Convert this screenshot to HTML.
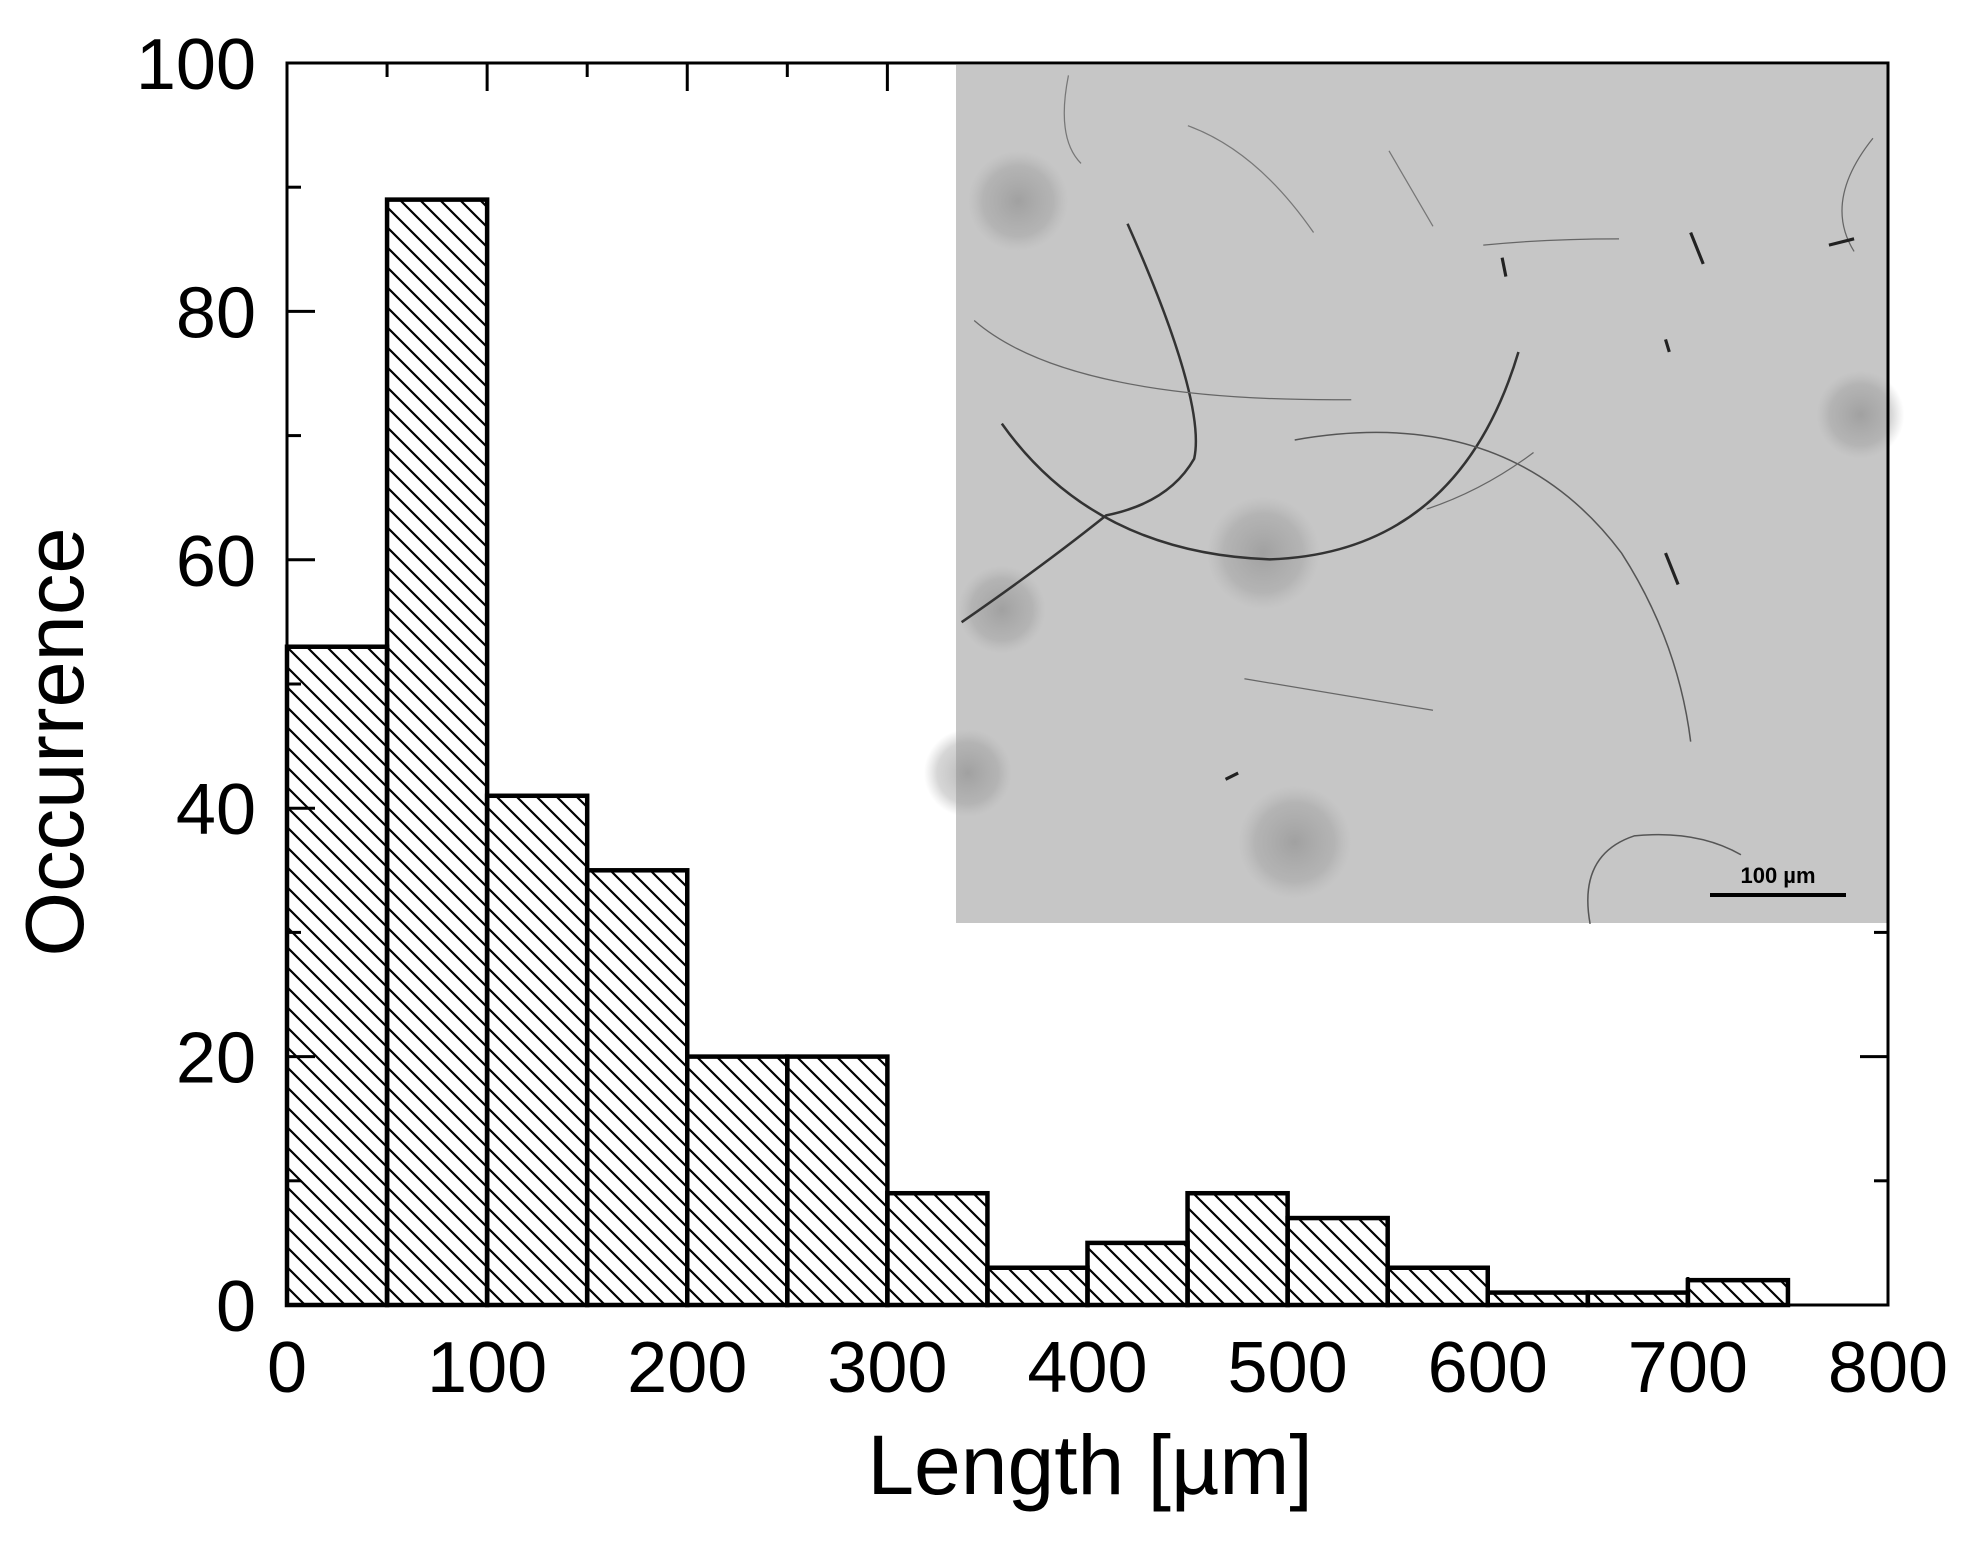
<!DOCTYPE html>
<html><head><meta charset="utf-8"><style>
html,body{margin:0;padding:0;background:#fff;}
svg{display:block;font-family:"Liberation Sans",Arial,sans-serif;}
</style></head><body>
<svg id="chart" width="1971" height="1551" viewBox="0 0 1971 1551" xmlns="http://www.w3.org/2000/svg">
<defs>
<pattern id="hatch" patternUnits="userSpaceOnUse" width="20" height="20">
<path d="M-5,-5 L25,25 M-5,15 L5,25 M15,-5 L25,5" stroke="#000" stroke-width="2.2"/>
</pattern>
<radialGradient id="blob"><stop offset="0" stop-color="#888" stop-opacity="0.6"/><stop offset="0.7" stop-color="#999" stop-opacity="0.4"/><stop offset="1" stop-color="#aaa" stop-opacity="0"/></radialGradient>
</defs>
<g id="bars"></g>
<g id="inset">
<rect x="956" y="65" width="932" height="858" fill="#c6c6c6"/>
<g transform="scale(1.257)" fill="none" stroke="#333">
<circle cx="797" cy="485" r="35" fill="url(#blob)" stroke="none"/>
<circle cx="770" cy="615" r="35" fill="url(#blob)" stroke="none"/>
<circle cx="1005" cy="440" r="45" fill="url(#blob)" stroke="none"/>
<circle cx="1030" cy="670" r="45" fill="url(#blob)" stroke="none"/>
<circle cx="1480" cy="330" r="35" fill="url(#blob)" stroke="none"/>
<circle cx="810" cy="160" r="40" fill="url(#blob)" stroke="none"/>
<path d="M797,337 Q870,440 1010,445 Q1160,440 1208,280" stroke-width="2"/>
<path d="M897,178 Q960,320 950,365 Q930,400 880,410 Q830,450 765,495" stroke-width="2"/>
<path d="M1030,350 Q1200,320 1290,440 Q1335,510 1345,590" stroke-width="1.2" stroke="#555"/>
<path d="M775,255 Q850,320 1075,318" stroke-width="1" stroke="#666"/>
<path d="M1265,735 Q1255,680 1300,665 Q1350,660 1385,680" stroke-width="1.2" stroke="#555"/>
<path d="M1180,195 Q1230,190 1288,190" stroke-width="1" stroke="#666"/>
<path d="M990,540 L1140,565" stroke-width="1" stroke="#666"/>
<path d="M850,60 Q840,110 860,130 M945,100 Q1000,120 1045,185 M1105,120 L1140,180" stroke-width="1" stroke="#777"/>
<path d="M1490,110 Q1450,160 1475,200 M1135,405 Q1180,390 1220,360" stroke-width="1" stroke="#666"/>
<path d="M1325,440 L1335,465 M1345,185 L1355,210 M1195,205 L1198,220 M975,620 L985,615 M1455,195 L1475,190 M1325,270 L1328,280" stroke-width="2.5" stroke="#222"/>
</g>
<line x1="1710" y1="895" x2="1846" y2="895" stroke="#000" stroke-width="4"/>
<text x="1778" y="883" font-size="22" font-weight="bold" text-anchor="middle">100 µm</text>
</g>
<g id="axes"></g>
<text x="1090" y="1494" font-size="84" text-anchor="middle">Length [µm]</text>
<text transform="translate(83,742) rotate(-90)" font-size="83" text-anchor="middle">Occurrence</text>
</svg>
<script>
const binStarts = [0,50,100,150,200,250,300,350,400,450,500,550,600,650,700];
const counts = [53,89,41,35,20,20,9,3,5,9,7,3,1,1,2];
const binWidth = 50;
const xTicks = [0,100,200,300,400,500,600,700,800];
const yTicks = [0,20,40,60,80,100];
const NS = "http://www.w3.org/2000/svg";
const X0=287,X1=1888,Y0=1305,Y1=63;
const xs = v => X0 + (v/800)*(X1-X0);
const ys = v => Y0 - (v/100)*(Y0-Y1);
function mk(tag, attrs, parent){const e=document.createElementNS(NS,tag);for(const k in attrs)e.setAttribute(k,attrs[k]);parent.appendChild(e);return e;}
const bars=document.getElementById('bars');
binStarts.forEach((b,i)=>{
  const x=xs(b), w=xs(b+binWidth)-x, y=ys(counts[i]), h=Y0-y;
  const r=mk('rect',{x:x,y:y,width:w,height:h,fill:'url(#hatch)',stroke:'#000','stroke-width':4.5},bars);
  
  
});
const ax=document.getElementById('axes');
const frame=mk('rect',{x:X0,y:Y1,width:X1-X0,height:Y0-Y1,fill:'none',stroke:'#000','stroke-width':3},ax);


for(let v=0;v<=800;v+=50){
  const x=xs(v), L=(v%100===0)?28:14;
  if(v>0&&v<800){
    mk('line',{x1:x,y1:Y0,x2:x,y2:Y0-L,stroke:'#000','stroke-width':3},ax);
    if(x<956) mk('line',{x1:x,y1:Y1,x2:x,y2:Y1+L,stroke:'#000','stroke-width':3},ax);
  }
}
for(let v=0;v<=100;v+=10){
  const y=ys(v), L=(v%20===0)?28:14;
  if(v>0&&v<100){
    mk('line',{x1:X0,y1:y,x2:X0+L,y2:y,stroke:'#000','stroke-width':3},ax);
    if(y>923) mk('line',{x1:X1,y1:y,x2:X1-L,y2:y,stroke:'#000','stroke-width':3},ax);
  }
}
xTicks.forEach(v=>{
  const t=mk('text',{x:xs(v),y:1392,'font-size':72,'text-anchor':'middle'},ax);
  t.textContent=v;
  
  
});
yTicks.forEach(v=>{
  const t=mk('text',{x:256,y:ys(v)+26,'font-size':72,'text-anchor':'end'},ax);
  t.textContent=v;
  
  
});
</script>
</body></html>
